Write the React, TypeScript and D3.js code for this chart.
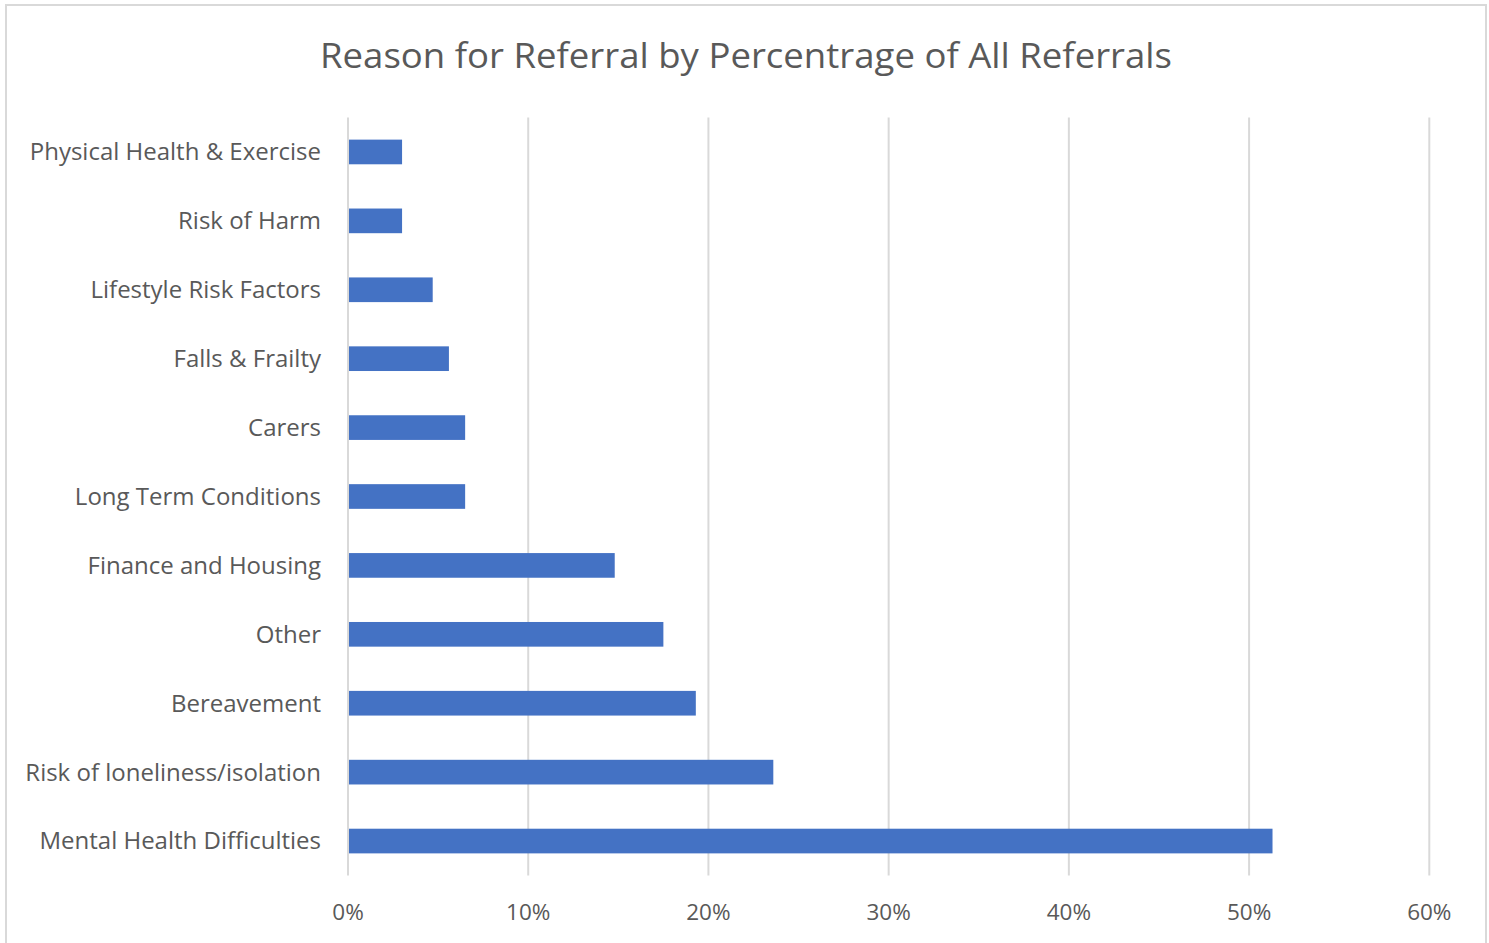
import React from "react";
import * as d3 from "d3";

const title = "Reason for Referral by Percentrage of All Referrals";
const categories = [
  "Physical Health & Exercise",
  "Risk of Harm",
  "Lifestyle Risk Factors",
  "Falls & Frailty",
  "Carers",
  "Long Term Conditions",
  "Finance and Housing",
  "Other",
  "Bereavement",
  "Risk of loneliness/isolation",
  "Mental Health Difficulties",
];
const values = [3.0, 3.0, 4.7, 5.6, 6.5, 6.5, 14.8, 17.5, 19.3, 23.6, 51.3];
const ticks = [0, 10, 20, 30, 40, 50, 60];

const W = 1489;
const H = 943;
const FONT = "'Open Sans', 'Noto Sans', sans-serif";
const TEXT = "#595959";

export default function App() {
  const x = d3.scaleLinear().domain([0, 60]).range([348, 1429.3]);
  const y = d3
    .scaleBand<string>()
    .domain(categories)
    .range([117.5, 875.5])
    .paddingInner(0.642)
    .paddingOuter(0.321);

  return (
    <svg
      width={W}
      height={H}
      style={{ position: "absolute", left: 0, top: 0, display: "block" }}
    >
      <rect x={0} y={0} width={W} height={H} fill="#fff" />
      <rect x={6} y={5} width={1480} height={950} fill="#fff" stroke="#d9d9d9" strokeWidth={2} />
      <text
        x={746}
        y={68}
        textAnchor="middle"
        fontFamily={FONT}
        fontSize={35}
        textLength={852}
        lengthAdjust="spacingAndGlyphs"
        fill={TEXT}
      >
        {title}
      </text>
      {ticks.map((t) => (
        <line
          key={"g" + t}
          x1={x(t)}
          x2={x(t)}
          y1={117.5}
          y2={875.5}
          stroke="#d9d9d9"
          strokeWidth={2}
        />
      ))}
      {categories.map((c, i) => (
        <rect
          key={"b" + c}
          x={x(0) + 1}
          y={y(c)}
          width={x(values[i]) - x(0) - 1}
          height={y.bandwidth()}
          fill="#4472C4"
        />
      ))}
      {categories.map((c) => (
        <text
          key={"l" + c}
          x={321}
          y={(y(c) as number) + y.bandwidth() / 2}
          dy="0.35em"
          textAnchor="end"
          fontFamily={FONT}
          fontSize={24}
          fill={TEXT}
        >
          {c}
        </text>
      ))}
      {ticks.map((t) => (
        <text
          key={"t" + t}
          x={x(t)}
          y={912}
          dy="0.35em"
          textAnchor="middle"
          fontFamily={FONT}
          fontSize={22.5}
          fill={TEXT}
        >
          {t + "%"}
        </text>
      ))}
    </svg>
  );
}
